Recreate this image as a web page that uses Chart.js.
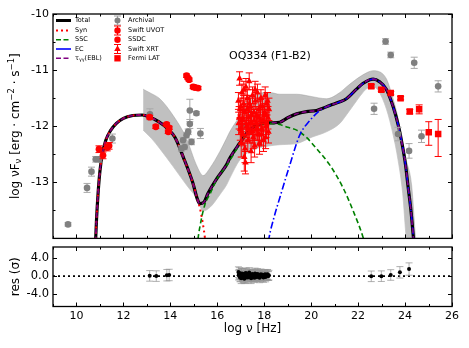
<!DOCTYPE html>
<html>
<head>
<meta charset="utf-8">
<script src="https://cdn.jsdelivr.net/npm/chart.js@4.4.1/dist/chart.umd.min.js"></script>
<style>
  html, body { margin: 0; padding: 0; background: #fff; }
  #wrap { position: relative; width: 469px; height: 348px; }
  #sed { position: absolute; left: 0; top: 0; }
  #res { position: absolute; left: 0; top: 243px; }
</style>
</head>
<body>
<div id="wrap">
  <canvas id="sed" width="469" height="243"></canvas>
  <canvas id="res" width="469" height="105"></canvas>
</div>
<script>
// ---- model curves (log nu [Hz], log nuFnu) ----
const totalX = [10.80, 10.85, 10.92, 11.00, 11.10, 11.25, 11.45, 11.70, 12.00, 12.40, 12.80, 13.13, 13.50, 13.90, 14.20, 14.55, 14.95, 15.15, 15.25, 15.42, 15.60, 16.00, 16.39, 16.53, 16.96, 17.30, 17.60, 17.94, 18.30, 18.66, 19.00, 19.38, 19.80, 20.23, 20.50, 20.79, 21.20, 21.50, 21.93, 22.20, 22.50, 22.64, 22.92, 23.20, 23.49, 23.72, 23.88, 24.02, 24.12, 24.25, 24.36, 24.45];
const totalY = [-14.2, -13.7, -13.2, -12.8, -12.5, -12.25, -12.08, -11.95, -11.86, -11.81, -11.80, -11.84, -11.92, -12.05, -12.2, -12.55, -13.0, -13.3, -13.38, -13.36, -13.2, -12.92, -12.69, -12.57, -12.3, -12.1, -12.0, -11.95, -11.94, -11.93, -11.85, -11.78, -11.74, -11.72, -11.68, -11.63, -11.57, -11.51, -11.34, -11.24, -11.17, -11.16, -11.21, -11.34, -11.65, -12.0, -12.33, -12.69, -13.05, -13.5, -14.0, -14.4];

const synX = [10.80, 10.85, 10.92, 11.00, 11.10, 11.25, 11.45, 11.70, 12.00, 12.40, 12.80, 13.13, 13.50, 13.90, 14.20, 14.55, 14.95, 15.15, 15.28, 15.39, 15.47, 15.55];
const synY = [-14.2, -13.7, -13.2, -12.8, -12.5, -12.25, -12.08, -11.95, -11.86, -11.81, -11.80, -11.84, -11.92, -12.05, -12.2, -12.55, -13.0, -13.3, -13.5, -13.75, -13.98, -14.3];

const sscX = [15.10, 15.18, 15.30, 15.47, 15.70, 16.00, 16.40, 16.96, 17.30, 17.60, 17.94, 18.30, 18.66, 19.00, 19.38, 19.80, 20.23, 20.79, 21.36, 21.79, 22.21, 22.35];
const sscY = [-14.3, -14.0, -13.7, -13.4, -13.2, -12.93, -12.7, -12.32, -12.12, -12.02, -11.96, -11.95, -11.97, -12.02, -12.07, -12.2, -12.4, -12.69, -13.1, -13.51, -13.98, -14.2];

const ecX = [18.10, 18.20, 18.40, 18.66, 19.09, 19.51, 19.94, 20.37, 20.79, 21.20, 21.50, 21.93, 22.20, 22.50, 22.64, 22.92, 23.20, 23.49, 23.72, 23.88, 24.02, 24.12, 24.25, 24.36, 24.45];
const ecY = [-14.3, -14.0, -13.65, -13.28, -12.69, -12.16, -11.9, -11.72, -11.63, -11.57, -11.51, -11.34, -11.24, -11.17, -11.16, -11.21, -11.34, -11.65, -12.0, -12.33, -12.69, -13.05, -13.5, -14.0, -14.4];

// uncertainty band
const bandX  = [12.84, 13.20, 13.55, 14.12, 14.69, 15.11, 15.40, 15.68, 16.11, 16.39, 16.53, 16.96, 17.38, 18.24, 18.66, 19.38, 20.00, 20.65, 21.22, 21.50, 21.93, 22.07, 22.40, 22.64, 22.85, 23.21, 23.49, 23.70, 23.90, 24.05, 24.28, 24.45, 24.60];
const bandHi = [-11.34, -11.42, -11.51, -11.81, -12.22, -12.69, -12.88, -12.75, -12.45, -12.22, -12.1, -11.81, -11.46, -11.40, -11.43, -11.43, -11.47, -11.51, -11.40, -11.30, -11.16, -11.12, -11.04, -11.01, -11.02, -11.16, -11.51, -11.85, -12.3, -12.6, -13.05, -14.0, -14.6];
const bandLo = [-12.07, -12.22, -12.40, -12.72, -13.05, -13.28, -13.51, -13.45, -13.22, -13.05, -12.93, -12.6, -12.45, -12.35, -12.33, -12.31, -12.2, -12.1, -11.95, -11.80, -11.55, -11.47, -11.32, -11.30, -11.36, -11.70, -12.15, -12.6, -13.2, -14.0, -14.6, -14.8, -15.0];

// ---- data points ----
const archX   = [9.64, 10.45, 10.64, 10.82, 10.96, 11.53, 13.13, 14.83, 15.11, 14.83, 15.28, 14.76, 14.69, 14.90, 14.54, 14.61, 14.47, 17.07, 22.68, 23.17, 23.39, 24.39, 25.41, 23.70, 24.17, 24.70];
const archY   = [-13.75, -13.1, -12.81, -12.59, -12.59, -12.22, -11.79, -11.72, -11.77, -11.96, -12.13, -12.1, -12.16, -12.28, -12.25, -12.37, -12.4, -12.01, -11.69, -10.49, -10.73, -10.87, -11.29, -12.14, -12.44, -12.18];
const archErr = [0.03, 0.08, 0.08, 0.05, 0.05, 0.08, 0.1, 0.2, 0.03, 0.08, 0.09, 0.05, 0.05, 0.05, 0.05, 0.05, 0.05, 0.05, 0.1, 0.05, 0.05, 0.1, 0.1, 0.12, 0.13, 0.11];

const uvotX   = [14.69, 14.75, 14.80, 14.97, 15.05, 15.18];
const uvotY   = [-11.10, -11.14, -11.17, -11.30, -11.31, -11.32];
const uvotErr = [0.03, 0.03, 0.03, 0.03, 0.03, 0.03];

const ssdcX   = [10.96, 11.13, 11.31, 11.39, 13.12, 13.38, 13.84, 13.95, 13.91];
const ssdcY   = [-12.41, -12.52, -12.38, -12.35, -11.84, -12.01, -11.97, -12.03, -12.10];
const ssdcErr = [0.06, 0.06, 0.06, 0.06, 0.03, 0.03, 0.03, 0.03, 0.03];

const xrtX = [16.90, 16.93, 16.95, 16.98, 17.00, 17.02, 17.05, 17.07, 17.10, 17.12, 17.15, 17.17, 17.20, 17.22, 17.25, 17.28, 17.30, 17.33, 17.36, 17.38, 17.41, 17.44, 17.47, 17.50, 17.53, 17.56, 17.59, 17.62, 17.65, 17.68, 17.71, 17.74, 17.77, 17.80, 17.83, 17.86, 17.90, 17.93, 17.97, 18.00, 18.04, 18.08, 18.12, 18.16, 18.20,
              16.91, 16.97, 17.03, 17.08, 17.13, 17.18, 17.23, 17.27, 17.32, 17.37, 17.42, 17.46, 17.51, 17.57, 17.61, 17.66, 17.72, 17.78, 17.84, 17.88, 17.95, 18.02, 18.06, 18.10, 18.14, 18.18];
const xrtY = [-11.55, -11.85, -11.15, -12.05, -11.65, -12.30, -11.40, -11.90, -12.15, -11.60, -12.55, -11.75, -12.65, -11.30, -12.00, -11.50, -12.25, -11.85, -11.20, -12.10, -11.65, -12.45, -11.95, -11.45, -12.20, -11.75, -12.35, -11.55, -12.05, -11.80, -11.40, -12.15, -11.70, -12.30, -11.90, -11.50, -12.05, -11.65, -12.25, -11.80, -11.45, -12.00, -11.60, -11.85, -11.70,
              -11.95, -11.70, -12.10, -11.85, -11.35, -12.40, -11.95, -11.70, -12.05, -11.60, -11.95, -11.80, -12.10, -11.90, -11.35, -11.95, -12.05, -11.85, -11.65, -12.15, -11.90, -11.75, -12.20, -11.95, -11.55, -12.10];
const xrtErr = [0.15, 0.2, 0.12, 0.2, 0.15, 0.25, 0.15, 0.2, 0.2, 0.15, 0.25, 0.15, 0.2, 0.15, 0.2, 0.15, 0.2, 0.2, 0.15, 0.2, 0.15, 0.2, 0.2, 0.15, 0.2, 0.15, 0.2, 0.15, 0.2, 0.15, 0.15, 0.2, 0.15, 0.2, 0.15, 0.15, 0.2, 0.15, 0.2, 0.15, 0.15, 0.2, 0.2, 0.2, 0.2,
                0.2, 0.15, 0.2, 0.2, 0.15, 0.25, 0.2, 0.15, 0.2, 0.15, 0.2, 0.15, 0.2, 0.2, 0.15, 0.2, 0.2, 0.15, 0.15, 0.2, 0.2, 0.15, 0.2, 0.2, 0.15, 0.2];

const latX  = [22.56, 22.99, 23.39, 23.81, 24.20, 24.60, 25.01, 25.41];
const latY  = [-11.29, -11.35, -11.41, -11.50, -11.74, -11.70, -12.11, -12.14];
const latUp = [0.03, 0.03, 0.03, 0.03, 0.04, 0.08, 0.19, 0.26];
const latDn = [0.03, 0.03, 0.03, 0.03, 0.04, 0.08, 0.23, 0.40];

// ---- residuals (sigma) ----
const resOptX = [13.12, 13.40, 13.85, 13.95];
const resOptY = [0.05, 0.0, 0.2, 0.25];
const resOptErr = [1.2, 1.2, 1.3, 1.3];
const resXrtY = [0.9, 0.4, 0.7, -0.2, 0.3, -0.5, 0.6, 0.1, -0.3, 0.5, -0.6, 0.2, -0.4, 0.7, 0.0, 0.4, -0.3, 0.1, 0.8, -0.1, 0.3, -0.5, 0.0, 0.5, -0.2, 0.2, -0.4, 0.4, -0.1, 0.1, 0.5, -0.2, 0.3, -0.4, 0.0, 0.4, -0.1, 0.3, -0.3, 0.1, 0.4, 0.0, 0.3, 0.1, 0.2,
                 0.2, -0.3, 0.5, 0.0, -0.4, 0.6, 0.1, -0.2, 0.3, -0.1, 0.4, 0.0, -0.3, 0.2, 0.6, -0.2, 0.1, 0.3, -0.1, 0.2, 0.0, 0.3, -0.2, 0.1, 0.4, 0.0];
const resXrtErr = [1.2, 1.1, 1.2, 1.0, 1.1, 1.2, 1.1, 1.0, 1.1, 1.2, 1.1, 1.0, 1.2, 1.1, 1.0, 1.1, 1.2, 1.0, 1.1, 1.1, 1.0, 1.2, 1.1, 1.0, 1.1, 1.2, 1.0, 1.1, 1.0, 1.1, 1.2, 1.0, 1.1, 1.1, 1.0, 1.2, 1.1, 1.0, 1.1, 1.0, 1.1, 1.0, 1.1, 1.0, 1.1,
                   1.1, 1.0, 1.2, 1.1, 1.0, 1.2, 1.1, 1.0, 1.1, 1.0, 1.2, 1.1, 1.0, 1.1, 1.2, 1.0, 1.1, 1.1, 1.0, 1.2, 1.0, 1.1, 1.1, 1.0, 1.1, 1.0];
const resLatX = [22.56, 22.99, 23.39, 23.78, 24.17];
const resLatY = [-0.05, -0.02, 0.25, 0.85, 1.6];
const resLatErr = [1.2, 1.2, 1.2, 1.3, 1.4];
const zeroX = [9, 26];
const zeroY = [0, 0];

// ---- axes ----
const xMin = 9, xMax = 26;
const mainYMin = -14, mainYMax = -10;
const mainYTicks = [-13, -12, -11, -10];
const mainYMinor = [-13.5, -12.5, -11.5, -10.5];
const resYMin = -6.9, resYMax = 6.6;
const resYTicks = [-4, 0, 4];
const xLabel = 'log ν [Hz]';
const resLabel = 'res (σ)';
const sourceName = 'OQ334 (F1-B2)';

const FONT = 'DejaVu Sans';
Chart.defaults.font.family = FONT;
Chart.defaults.color = '#000';

const xy = (xs, ys) => xs.map((x, i) => ({ x: x, y: ys[i] }));

// vertical error bars, drawn under each dataset's markers
const errorBars = {
  id: 'errorBars',
  beforeDatasetDraw(chart, args) {
    const ds = chart.data.datasets[args.index];
    if (!ds.err) return;
    const { ctx, chartArea: a, scales: { x, y } } = chart;
    ctx.save();
    ctx.beginPath();
    ctx.rect(a.left, a.top, a.right - a.left, a.bottom - a.top);
    ctx.clip();
    ctx.strokeStyle = ds.err.color;
    ctx.lineWidth = 1;
    ds.data.forEach((p, i) => {
      const px = x.getPixelForValue(p.x);
      const y1 = y.getPixelForValue(p.y + ds.err.hi[i]);
      const y2 = y.getPixelForValue(p.y - ds.err.lo[i]);
      const c = 3.5;
      ctx.beginPath();
      ctx.moveTo(px, y1); ctx.lineTo(px, y2);
      ctx.moveTo(px - c, y1); ctx.lineTo(px + c, y1);
      ctx.moveTo(px - c, y2); ctx.lineTo(px + c, y2);
      ctx.stroke();
    });
    ctx.restore();
  }
};

// frame with inward ticks on all four sides
const frame = {
  id: 'frame',
  afterDatasetsDraw(chart, args, opts) {
    const { ctx, chartArea: a, scales: { x, y } } = chart;
    ctx.save();
    ctx.strokeStyle = '#000';
    ctx.lineWidth = 1;
    ctx.beginPath();
    for (let v = xMin; v <= xMax; v++) {
      const px = Math.round(x.getPixelForValue(v)) + 0.5;
      const L = v % 2 === 0 ? 4 : 2.5;
      ctx.moveTo(px, a.bottom); ctx.lineTo(px, a.bottom - L);
      ctx.moveTo(px, a.top); ctx.lineTo(px, a.top + L);
    }
    const yt = (v, L) => {
      const py = Math.round(y.getPixelForValue(v)) + 0.5;
      ctx.moveTo(a.left, py); ctx.lineTo(a.left + L, py);
      ctx.moveTo(a.right, py); ctx.lineTo(a.right - L, py);
    };
    (opts.major || []).forEach(v => yt(v, 4));
    (opts.minor || []).forEach(v => yt(v, 2.5));
    ctx.stroke();
    ctx.lineWidth = 1.3;
    ctx.strokeRect(a.left, a.top, a.right - a.left, a.bottom - a.top);
    ctx.restore();
  }
};

function richWidth(ctx, parts) {
  let w = 0;
  parts.forEach(p => { ctx.font = p.s + 'px "' + FONT + '"'; p.w = ctx.measureText(p.t).width; w += p.w; });
  return w;
}
function drawRich(ctx, parts, x, y) {
  ctx.textBaseline = 'middle';
  ctx.textAlign = 'left';
  parts.forEach(p => {
    ctx.font = p.s + 'px "' + FONT + '"';
    ctx.fillText(p.t, x, y + (p.dy || 0));
    x += p.w;
  });
}

// y title with sub/superscripts
const yTitle = {
  id: 'yTitle',
  afterDraw(chart) {
    const { ctx, chartArea: a } = chart;
    const parts = [
      { t: 'log νF', s: 12 }, { t: 'ν', s: 8.5, dy: 3 },
      { t: ' [erg · cm', s: 12 }, { t: '−2', s: 8.5, dy: -4 },
      { t: ' · s', s: 12 }, { t: '−1', s: 8.5, dy: -4 }, { t: ']', s: 12 }
    ];
    ctx.save();
    ctx.fillStyle = '#000';
    ctx.translate(16, (a.top + a.bottom) / 2);
    ctx.rotate(-Math.PI / 2);
    const w = richWidth(ctx, parts);
    drawRich(ctx, parts, -w / 2, 0);
    ctx.restore();
  }
};

const lineKeys = [
  { label: 'Total', color: '#000000', w: 3, dash: [] },
  { label: 'Syn', color: '#ff0000', w: 2, dash: [2, 3] },
  { label: 'SSC', color: '#008000', w: 1.6, dash: [5, 2.5] },
  { label: 'EC', color: '#0000ff', w: 1.6, dash: [] },
  { label: 'EBL', color: '#800080', w: 1.6, dash: [5, 2.5] }
];
const pointKeys = [
  { label: 'Archival', color: '#808080', err: '#a0a0a0', style: 'circle', r: 3 },
  { label: 'Swift UVOT', color: '#ff0000', err: '#ff0000', style: 'circle', r: 3.2 },
  { label: 'SSDC', color: '#ff0000', err: null, style: 'circle', r: 3.2 },
  { label: 'Swift XRT', color: '#ff0000', err: '#ff0000', style: 'triangle', r: 3.8 },
  { label: 'Fermi LAT', color: '#ff0000', err: null, style: 'rect', r: 4.5 }
];
const legendRowY = [20.5, 30.5, 39.7, 49, 58.3];

const legendBox = {
  id: 'legendBox',
  afterDraw(chart) {
    const ctx = chart.ctx;
    ctx.save();
    ctx.fillStyle = '#000';
    lineKeys.forEach((k, i) => {
      const y = legendRowY[i];
      ctx.strokeStyle = k.color; ctx.lineWidth = k.w; ctx.setLineDash(k.dash);
      ctx.beginPath(); ctx.moveTo(56, y); ctx.lineTo(71, y); ctx.stroke();
      ctx.setLineDash([]);
      ctx.fillStyle = '#000';
      if (k.label === 'EBL') {
        const parts = [{ t: 'τ', s: 6.5 }, { t: 'γγ', s: 4.8, dy: 1.8 }, { t: '(EBL)', s: 6.5 }];
        richWidth(ctx, parts);
        drawRich(ctx, parts, 75, y);
      } else {
        ctx.font = '6.5px "' + FONT + '"';
        ctx.textBaseline = 'middle';
        ctx.fillText(k.label, 75, y);
      }
    });
    pointKeys.forEach((k, i) => {
      const y = legendRowY[i];
      const x = 117.5;
      if (k.err) {
        ctx.strokeStyle = k.err; ctx.lineWidth = 1;
        ctx.beginPath();
        ctx.moveTo(x, y - 4.5); ctx.lineTo(x, y + 4.5);
        ctx.moveTo(x - 3.5, y - 4.5); ctx.lineTo(x + 3.5, y - 4.5);
        ctx.moveTo(x - 3.5, y + 4.5); ctx.lineTo(x + 3.5, y + 4.5);
        ctx.stroke();
      }
      ctx.fillStyle = k.color; ctx.strokeStyle = k.color;
      Chart.helpers.drawPoint(ctx, { pointStyle: k.style, radius: k.r, rotation: 0, borderWidth: 0 }, x, y);
      ctx.fillStyle = '#000';
      ctx.font = '6.5px "' + FONT + '"';
      ctx.textBaseline = 'middle';
      ctx.fillText(k.label, 128, y);
    });
    ctx.font = '11px "' + FONT + '"';
    ctx.textBaseline = 'middle';
    ctx.fillText(sourceName, 229, 56);
    ctx.restore();
  }
};

const curve = (xs, ys, color, w, dash) => ({
  data: xy(xs, ys), showLine: true, pointRadius: 0, borderColor: color, borderWidth: w,
  borderDash: dash, fill: false, cubicInterpolationMode: 'monotone'
});
const markers = (xs, ys, lo, hi, color, errColor, style, r) => ({
  data: xy(xs, ys), showLine: false, pointStyle: style, pointRadius: r,
  backgroundColor: color, borderColor: color, borderWidth: 0,
  err: lo ? { lo: lo, hi: hi, color: errColor } : null
});

// first dataset is drawn on top
new Chart(document.getElementById('sed'), {
  type: 'scatter',
  data: {
    datasets: [
      markers(latX, latY, latDn, latUp, '#ff0000', '#ff0000', 'rect', 4.6),
      markers(xrtX, xrtY, xrtErr, xrtErr, '#ff0000', '#ff0000', 'triangle', 3.8),
      markers(ssdcX, ssdcY, ssdcErr, ssdcErr, '#ff0000', '#ff0000', 'circle', 3.4),
      markers(uvotX, uvotY, uvotErr, uvotErr, '#ff0000', '#ff0000', 'circle', 3.4),
      markers(archX, archY, archErr, archErr, '#808080', '#a8a8a8', 'circle', 3.3),
      curve(totalX, totalY, '#800080', 1.6, [5, 3]),
      curve(ecX, ecY, '#0000ff', 1.6, [7, 2.5, 1.5, 2.5]),
      curve(sscX, sscY, '#008000', 1.6, [5, 3]),
      curve(synX, synY, '#ff0000', 2, [2, 3.3]),
      curve(totalX, totalY, '#000000', 3.2, []),
      Object.assign(curve(bandX, bandHi, 'rgba(150,150,150,0.7)', 0.6, []), { fill: '+1', backgroundColor: 'rgb(192,192,192)' }),
      curve(bandX, bandLo, 'rgba(150,150,150,0.7)', 0.6, [])
    ]
  },
  options: {
    responsive: false,
    animation: false,
    devicePixelRatio: 1,
    events: [],
    layout: { padding: { left: 0, right: 17, top: 14, bottom: 2 } },
    plugins: {
      legend: { display: false },
      tooltip: { enabled: false },
      frame: { major: mainYTicks, minor: mainYMinor }
    },
    scales: {
      x: { type: 'linear', min: xMin, max: xMax, display: false },
      y: {
        type: 'linear', min: mainYMin, max: mainYMax,
        grid: { display: false, drawTicks: false },
        border: { display: false },
        ticks: { font: { size: 11 }, color: '#000', padding: 4, callback: v => String(v) },
        afterBuildTicks: s => { s.ticks = mainYTicks.map(v => ({ value: v })); },
        afterFit: s => { s.width = 53; s.paddingTop = 0; s.paddingBottom = 0; }
      }
    }
  },
  plugins: [errorBars, frame, yTitle, legendBox]
});

const resPts = (xs, ys, err) => ({
  data: xy(xs, ys), showLine: false, pointStyle: 'circle', pointRadius: 2,
  backgroundColor: '#000', borderColor: '#000', borderWidth: 0,
  err: { lo: err, hi: err, color: 'rgba(150,150,150,0.75)' }
});

new Chart(document.getElementById('res'), {
  type: 'scatter',
  data: {
    datasets: [
      resPts(resOptX, resOptY, resOptErr),
      resPts(xrtX, resXrtY, resXrtErr),
      resPts(resLatX, resLatY, resLatErr),
      { data: xy(zeroX, zeroY), showLine: true, pointRadius: 0, borderColor: '#000', borderWidth: 1.8, borderDash: [2, 3] }
    ]
  },
  options: {
    responsive: false,
    animation: false,
    devicePixelRatio: 1,
    events: [],
    layout: { padding: { left: 0, right: 17, top: 2, bottom: 0 } },
    plugins: {
      legend: { display: false },
      tooltip: { enabled: false },
      frame: { major: resYTicks, minor: [] }
    },
    scales: {
      x: {
        type: 'linear', min: xMin, max: xMax,
        grid: { display: false, drawTicks: false },
        border: { display: false },
        ticks: { stepSize: 1, autoSkip: false, maxRotation: 0, font: { size: 11 }, color: '#000', padding: 3,
                 callback: v => (v % 2 === 0 ? String(v) : '') },
        title: { display: true, text: xLabel, font: { size: 12 }, color: '#000', padding: { top: 0, bottom: 12 } },
        afterFit: s => { s.height = 41.5; s.paddingLeft = 0; s.paddingRight = 0; }
      },
      y: {
        type: 'linear', min: resYMin, max: resYMax,
        grid: { display: false, drawTicks: false },
        border: { display: false },
        ticks: { font: { size: 11.5 }, color: '#000', padding: 4, callback: v => v.toFixed(1) },
        afterBuildTicks: s => { s.ticks = resYTicks.map(v => ({ value: v })); },
        title: { display: true, text: resLabel, font: { size: 12 }, color: '#000', padding: { top: 9, bottom: 0 } },
        afterFit: s => { s.width = 53; s.paddingTop = 0; s.paddingBottom = 0; }
      }
    }
  },
  plugins: [errorBars, frame]
});
</script>
</body>
</html>
